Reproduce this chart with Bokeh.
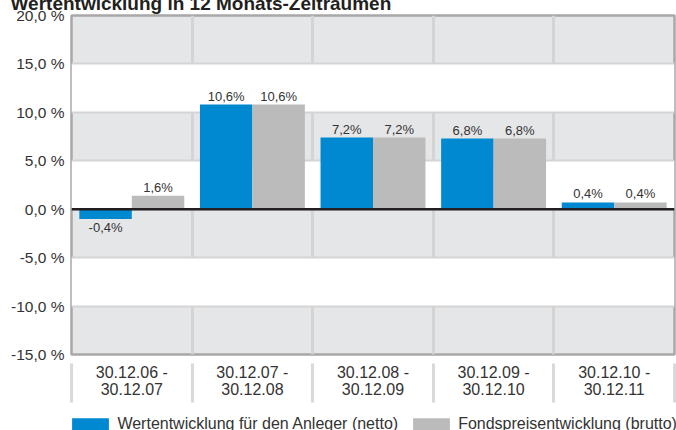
import numpy as np
from bokeh.plotting import figure
from bokeh.layouts import column
from bokeh.models import (FixedTicker, Span, Legend, LegendItem, ColumnDataSource)
from bokeh.core.properties import value
from bokeh.transform import dodge
from bokeh.embed import file_html
from bokeh.resources import INLINE

# ---- data ----
title = "Wertentwicklung in 12 Monats-Zeiträumen"
categories = ["30.12.06 -\n30.12.07", "30.12.07 -\n30.12.08", "30.12.08 -\n30.12.09",
              "30.12.09 -\n30.12.10", "30.12.10 -\n30.12.11"]
netto_bars = [-1.0, 10.8, 7.4, 7.3, 0.7]
brutto_bars = [1.4, 10.8, 7.4, 7.3, 0.7]
netto_labels = ["-0,4%", "10,6%", "7,2%", "6,8%", "0,4%"]
brutto_labels = ["1,6%", "10,6%", "7,2%", "6,8%", "0,4%"]
y_ticks = [-15, -10, -5, 0, 5, 10, 15, 20]
y_tick_labels = ["-15,0 %", "-10,0 %", "-5,0 %", "0,0 %", "5,0 %", "10,0 %", "15,0 %", "20,0 %"]
series_names = ["Wertentwicklung für den Anleger (netto)", "Fondspreisentwicklung (brutto)"]

FONT = "Liberation Sans"
BLUE = "#0089d0"
GREY = "#bbbbbb"
BAND = "#e5e6e8"
TXT = "#333333"

centers = np.arange(len(categories)) + 0.5
src = ColumnDataSource(dict(
    x=centers, netto=netto_bars, brutto=brutto_bars,
    nl=netto_labels, bl=brutto_labels,
    noff=[-8.5 if v >= 0 else 8.7 for v in netto_bars],
    boff=[-8.5 if v >= 0 else 8.7 for v in brutto_bars],
))

# ---------------- main chart ----------------
p = figure(width=676, height=426, output_backend="svg", toolbar_location=None,
           x_range=(0, len(categories)), y_range=(y_ticks[0], y_ticks[-1]),
           min_border_left=71, min_border_right=2, min_border_top=27, min_border_bottom=60)
p.frame_align = False
p.background_fill_color = BAND
p.border_fill_color = "white"
p.outline_line_color = "#a8a8a8"
p.outline_line_width = 2.5

# title (cut at the top edge, as in the reference)
p.title.text = title
p.title.align = "left"
p.title.offset = -61
p.title.standoff = 3
p.title.text_font = FONT
p.title.text_font_size = "19px"
p.title.text_font_style = "bold"
p.title.text_color = "#231f20"

# grids
p.xgrid.ticker = FixedTicker(ticks=list(range(1, len(categories))))
p.xgrid.grid_line_color = "#d4d4d4"
p.xgrid.grid_line_width = 3
p.ygrid.ticker = FixedTicker(ticks=y_ticks)
p.ygrid.grid_line_color = "#d4d4d4"
p.ygrid.grid_line_width = 2
p.ygrid.band_fill_color = "white"
p.ygrid.band_fill_alpha = 1

# y axis
p.yaxis.ticker = FixedTicker(ticks=y_ticks)
p.yaxis.major_label_overrides = {t: l for t, l in zip(y_ticks, y_tick_labels)}
p.yaxis.axis_line_color = None
p.yaxis.major_tick_line_color = None
p.yaxis.minor_tick_line_color = None
p.yaxis.major_tick_out = 0
p.yaxis.major_tick_in = 0
p.yaxis.minor_tick_out = 0
p.yaxis.major_label_standoff = 7
p.yaxis.major_label_text_font = FONT
p.yaxis.major_label_text_font_size = "15.5px"
p.yaxis.major_label_text_color = TXT

# x axis: labels at centres, separators (minor ticks) at category boundaries
p.xaxis.ticker = FixedTicker(ticks=[float(c) for c in centers],
                             minor_ticks=list(range(len(categories) + 1)))
p.xaxis.major_label_overrides = {float(c): cat for c, cat in zip(centers, categories)}
p.xaxis.axis_line_color = None
p.xaxis.major_tick_line_color = None
p.xaxis.major_tick_out = 0
p.xaxis.major_tick_in = 0
p.xaxis.minor_tick_line_color = "#d9d9d9"
p.xaxis.minor_tick_line_width = 3
p.xaxis.minor_tick_out = 9
p.xaxis.minor_tick_in = -48
p.xaxis.major_label_standoff = 0
p.xaxis.major_label_text_font = FONT
p.xaxis.major_label_text_font_size = "16px"
p.xaxis.major_label_text_line_height = 1.05
p.xaxis.major_label_text_color = TXT
p.xaxis.major_label_orientation = "horizontal"

# bars
W = 0.435
p.vbar(x=dodge("x", -W / 2), top="netto", bottom=0, width=W, source=src,
       fill_color=BLUE, line_color=None)
p.vbar(x=dodge("x", W / 2), top="brutto", bottom=0, width=W, source=src,
       fill_color=GREY, line_color=None)

p.text(x=dodge("x", -W / 2), y="netto", text="nl", y_offset="noff", source=src,
       text_align="center", text_baseline="alphabetic", text_font=value(FONT),
       text_font_size="13px", text_color=TXT)
p.text(x=dodge("x", W / 2), y="brutto", text="bl", y_offset="boff", source=src,
       text_align="center", text_baseline="alphabetic", text_font=value(FONT),
       text_font_size="13px", text_color=TXT)

p.add_layout(Span(location=0, dimension="width", line_color="#231f20", line_width=2.5))

# ---------------- legend strip (cut at the bottom edge) ----------------
lg = figure(width=676, height=16, output_backend="svg", toolbar_location=None,
            x_range=(0, len(categories)), y_range=(1000, 1001),
            x_axis_location=None, y_axis_location=None, min_border=0)
lg.frame_align = False
lg.grid.visible = False
lg.outline_line_color = None
lg.background_fill_color = "white"
lg.border_fill_color = "white"
k1 = lg.vbar(x="x", top="netto", width=0.1, source=src, fill_color=BLUE, line_color=None)
k2 = lg.vbar(x="x", top="brutto", width=0.1, source=src, fill_color=GREY, line_color=None)
legend = Legend(items=[LegendItem(label=series_names[0], renderers=[k1]),
                       LegendItem(label=series_names[1], renderers=[k2])],
                location=(67.4, -4), orientation="horizontal",
                glyph_width=46, glyph_height=17, label_standoff=4, spacing=10,
                padding=0, margin=0, border_line_color=None, background_fill_alpha=0,
                label_text_font=FONT, label_text_font_size="16px",
                label_text_color=TXT, label_height=20)
lg.add_layout(legend)

layout = column(p, lg, spacing=0)
layout.styles = {"margin-top": "-12px"}

open("out.html", "w").write(file_html(layout, INLINE))
